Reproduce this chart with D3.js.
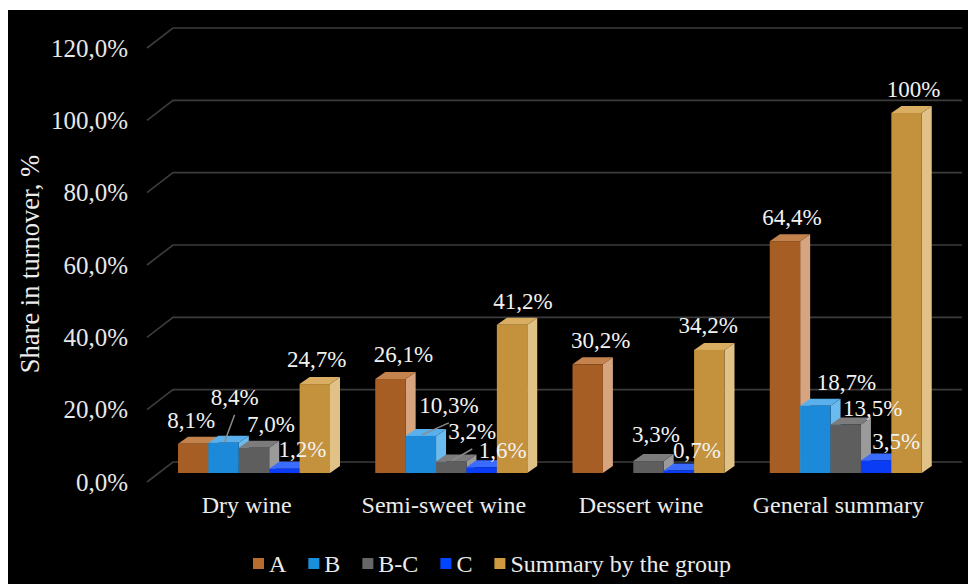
<!DOCTYPE html>
<html><head><meta charset="utf-8">
<script src="https://cdn.jsdelivr.net/npm/d3@7"></script>
<style>html,body{margin:0;padding:0;background:#fff;}svg{display:block;}</style>
</head><body>
<script>
// ---- data ----
const categories = ["Dry wine", "Semi-sweet wine", "Dessert wine", "General summary"];
const seriesNames = ["A", "B", "B-C", "C", "Summary by the group"];
const valuesA       = [8.1, 26.1, 30.2, 64.4];
const valuesB       = [8.4, 10.3, null, 18.7];
const valuesBC      = [7.0, 3.2, 3.3, 13.5];
const valuesC       = [1.2, 1.6, 0.7, 3.5];
const valuesSummary = [24.7, 41.2, 34.2, 100];
const yTicks = [0, 20, 40, 60, 80, 100, 120];
const yTitle = "Share in turnover, %";

// ---- layout / style (not data) ----
const seriesValues = [valuesA, valuesB, valuesBC, valuesC, valuesSummary];
const front = ["#A65E24", "#1C8AD8", "#5E5E5E", "#0A3CF5", "#C4913C"];
const topC  = ["#C4834C", "#5AB0EC", "#7C7C7C", "#3A6BFF", "#D9AE63"];
const sideC = ["#D6A47F", "#6CBBEE", "#9A9A9A", "#4A78FF", "#E0C286"];
const legendC = ["#B86C2E", "#1A8FDC", "#666666", "#0046FF", "#D09A40"];
// manual label nudges [series][category] -> [dx, dy, leader]
const labelNudge = [
  [[-7,0],[8,-1],[8,0],[2,0]],
  [[6,-22,1],[23,-7,1],[0,0],[26,0]],
  [[12,0],[16,-6.5,1],[2.5,-3.5],[22,8]],
  [[13,4],[16,6.5],[13,4],[15,5]],
  [[-3,-1],[6,0],[-6,-1],[2,0]]
];

const W = 970, H = 584;
const svg = d3.select("body").append("svg").attr("width", W).attr("height", H);
svg.append("rect").attr("x", 8).attr("y", 10).attr("width", 960).attr("height", 574).attr("fill", "#000");

const FONT = "'Liberation Serif','Times New Roman',serif";
const gx0 = 147, gx1 = 936, ddx = 26, ddy = -20;
const yGrid = d3.scaleLinear().domain([0, 120]).range([482, 48]);
const yBar = d3.scaleLinear().domain([0, 120]).range([473, 41]);
const xBand = d3.scaleBand().domain(categories).range([gx0, gx1]).padding(0);
const xInner = d3.scaleBand().domain(seriesNames).range([31, 31 + 152]).padding(0);
const bdx = 10, bdy = -7;

// gridlines (3D)
const grid = svg.append("g");
yTicks.forEach(t => {
  const y = yGrid(t);
  grid.append("path")
    .attr("d", `M${gx0},${y}L${gx0 + ddx},${y + ddy}L${962},${y + ddy}`)
    .attr("fill", "none").attr("stroke", "#3c3c3c").attr("stroke-width", 1.6);
});
// tick labels
const fmt = v => v.toFixed(1).replace(".", ",") + "%";
svg.append("g").selectAll("text").data(yTicks).join("text")
  .attr("x", 128).attr("y", d => yGrid(d) + 8.5)
  .attr("text-anchor", "end").attr("fill", "#e8e8e8")
  .style("font-family", FONT).style("font-size", "25px")
  .text(d => fmt(d));

// axis title
svg.append("text")
  .attr("transform", `translate(38.5,264) rotate(-90)`)
  .attr("text-anchor", "middle").attr("fill", "#ececec")
  .style("font-family", FONT).style("font-size", "26.5px")
  .text(yTitle);

// bars
const bars = svg.append("g");
categories.forEach((cat, ci) => {
  seriesNames.forEach((s, si) => {
    const v = seriesValues[si][ci];
    if (v == null) return;
    const x = xBand(cat) + xInner(s), w = xInner.bandwidth();
    const y0 = yBar(0), y1 = yBar(v);
    const g = bars.append("g");
    g.append("path").attr("fill", sideC[si])
      .attr("d", `M${x + w},${y0}L${x + w + bdx},${y0 + bdy}L${x + w + bdx},${y1 + bdy}L${x + w},${y1}Z`);
    g.append("path").attr("fill", topC[si])
      .attr("d", `M${x},${y1}L${x + bdx},${y1 + bdy}L${x + w + bdx},${y1 + bdy}L${x + w},${y1}Z`);
    g.append("rect").attr("x", x).attr("y", y1).attr("width", w).attr("height", y0 - y1).attr("fill", front[si]);
  });
});

// data labels
const lblFmt = v => (v === 100 ? "100" : v.toFixed(1).replace(".", ",")) + "%";
const labels = svg.append("g");
categories.forEach((cat, ci) => {
  seriesNames.forEach((s, si) => {
    const v = seriesValues[si][ci];
    if (v == null) return;
    const cx = xBand(cat) + xInner(s) + xInner.bandwidth() / 2;
    const top = yBar(v);
    const nd = labelNudge[si][ci];
    const lx = cx + 5 + nd[0], ly = top - 16 + nd[1];
    if (nd[2]) {
      labels.append("line").attr("x1", lx).attr("y1", ly + 10).attr("x2", cx + 1).attr("y2", top - 1)
        .attr("stroke", "#8a8a8a").attr("stroke-width", 1.5);
    }
    labels.append("text").attr("x", lx).attr("y", ly).attr("text-anchor", "middle")
      .attr("fill", "#f2f2f2").style("font-family", FONT).style("font-size", "23px")
      .text(lblFmt(v));
  });
});

// category labels
svg.append("g").selectAll("text").data(categories).join("text")
  .attr("x", d => xBand(d) + xBand.bandwidth() / 2 + 1).attr("y", 513)
  .attr("text-anchor", "middle").attr("fill", "#ececec")
  .style("font-family", FONT).style("font-size", "24px")
  .text(d => d);

// legend
const leg = svg.append("g");
let lx = 253;
seriesNames.forEach((s, si) => {
  leg.append("rect").attr("x", lx).attr("y", 558).attr("width", 11).attr("height", 11).attr("fill", legendC[si]);
  const t = leg.append("text").attr("x", lx + 16).attr("y", 571.5).attr("fill", "#ececec")
    .style("font-family", FONT).style("font-size", "24px").text(s);
  lx = lx + 16 + t.node().getComputedTextLength() + 22;
});
</script>
</body></html>
